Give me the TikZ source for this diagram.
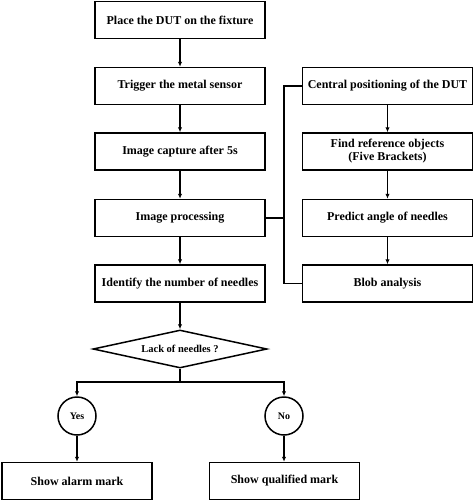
\documentclass[tikz,border=0pt]{standalone}
\usepackage{fontspec}
\setmainfont{Liberation Serif}
\usetikzlibrary{arrows.meta,shapes.geometric}
\begin{document}
\begin{tikzpicture}[x=1pt,y=-1pt,
  box/.style={draw,line width=1.5pt,minimum width=170pt,minimum height=37pt,inner sep=1pt,align=center,font=\fontsize{12}{13}\selectfont\bfseries},
  sbox/.style={box,minimum width=150pt},
  dec/.style={draw,diamond,line width=1.5pt,minimum width=174pt,minimum height=38pt,inner sep=0pt,aspect=4.6,font=\fontsize{10.5}{12}\selectfont\bfseries},
  circ/.style={draw,circle,line width=1.5pt,minimum size=38pt,inner sep=0pt,font=\fontsize{10}{12}\selectfont\bfseries},
  arr/.style={line width=1.5pt,-{Latex[length=5pt,width=4.5pt]}},
  bus/.style={line width=1.8pt}]
\useasboundingbox (0,0) rectangle (474,501);
\node[box] (b1) at (180,20) {Place the DUT on the fixture};
\node[box] (b2) at (180,86) {Trigger the metal sensor};
\node[box] (b3) at (180,151.5) {Image capture after 5s};
\node[box] (b4) at (180,218) {Image processing};
\node[box] (b5) at (180,283.5) {Identify the number of needles};
\node[box] (r1) at (387.5,86) {Central positioning of the DUT};
\node[box] (r2) at (387.5,151.5) {Find reference objects\\(Five Brackets)};
\node[box] (r3) at (387.5,218) {Predict angle of needles};
\node[box] (r4) at (387.5,283.5) {Blob analysis};
\node[dec] (d) at (180,349) {Lack of needles ?};
\node[circ] (yes) at (77,416) {Yes};
\node[circ] (no) at (284,416) {No};
\node[sbox] (s1) at (77,481) {Show alarm mark};
\node[sbox] (s2) at (284.5,481) {Show qualified mark};
\coordinate (bt) at (284,86);
\coordinate (bm) at (284,218);
\coordinate (bb) at (284,283.5);
\coordinate (j) at (180,382);
\draw[arr] (b1) -- (b2);
\draw[arr] (b2) -- (b3);
\draw[arr] (b3) -- (b4);
\draw[arr] (b4) -- (b5);
\draw[arr] (b5) -- (d);
\draw[arr] (r1) -- (r2);
\draw[arr] (r2) -- (r3);
\draw[arr] (r3) -- (r4);
\draw[bus] (b4.east) -- (bm);
\draw[bus] (r1.west) -- (bt) -- (bb) -- (r4.west);
\draw[line width=1.5pt] (d.south) -- (j);
\draw[arr] (j) -| (yes.north);
\draw[arr] (j) -| (no.north);
\draw[arr] (yes) -- (s1);
\draw[arr] (no) -- (s2.north -| no);
\end{tikzpicture}
\end{document}
